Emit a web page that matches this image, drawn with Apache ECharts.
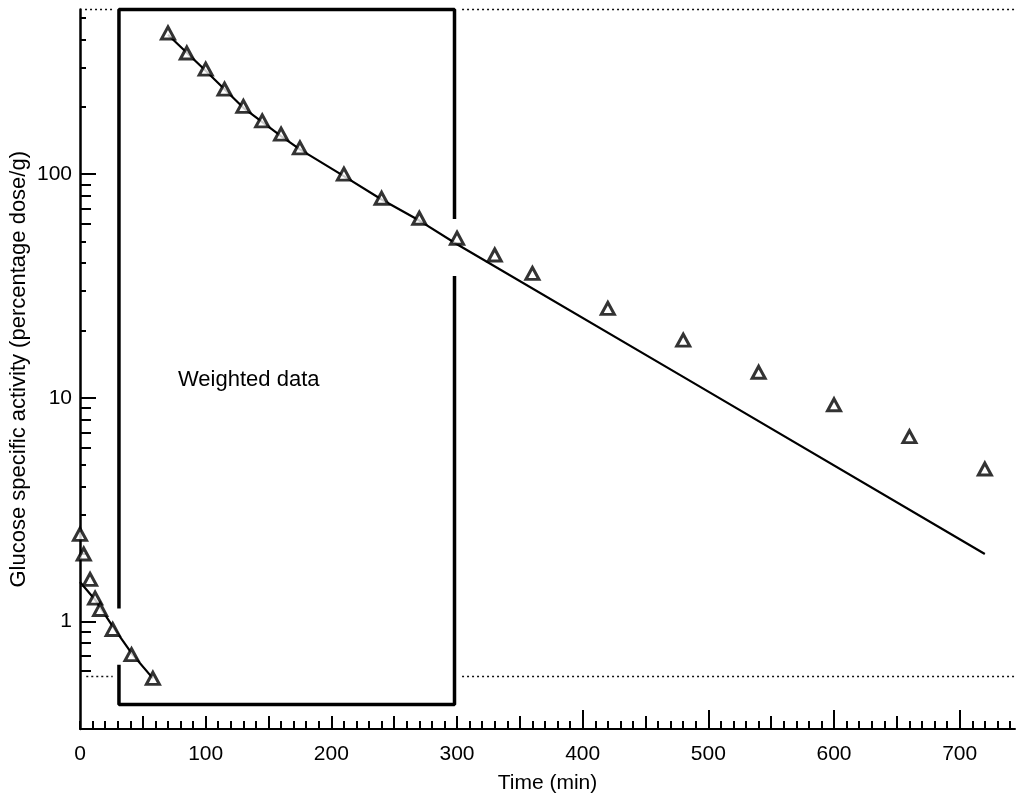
<!DOCTYPE html>
<html>
<head>
<meta charset="utf-8">
<script src="https://cdn.jsdelivr.net/npm/echarts@6/dist/echarts.min.js"></script>
<style>
  html, body { margin: 0; background: #fff; }
  #main { width: 1018px; height: 802px; }
</style>
</head>
<body>
<div id="main"></div>
<script>
// measured points, time in min / glucose specific activity (percentage dose/g)
const earlyTimes = [0, 3, 8, 12, 16, 26, 41, 58];
const earlyValues = [2.45, 2.0, 1.54, 1.27, 1.13, 0.92, 0.71, 0.556];
const lateTimes = [70, 85, 100, 115, 130, 145, 160, 175, 210, 240, 270, 300,
  330, 360, 420, 480, 540, 600, 660, 720];
const lateValues = [428, 348, 295, 240, 201, 173, 151, 131, 100, 78, 63.5, 51.7,
  43.5, 36, 25.1, 18.1, 13.0, 9.3, 6.7, 4.8];

// fitted curves
const earlyFitTimes = [0, 12, 26, 41, 58];
const earlyFitValues = [1.5, 1.25, 0.95, 0.72, 0.556];
const lateFitTimes = [70, 100, 130, 160, 175, 210, 240, 270, 300, 480, 720];
const lateFitValues = [420, 290, 198, 148, 129, 98, 77, 62, 48.6, 12.4, 2.0];

// "weighted data" frame (two pieces, gaps where the data pass through)
const boxUpperTimes = [31, 31, 298, 298];
const boxUpperValues = [1.14, 545, 545, 63];
const boxLowerTimes = [298, 298, 31, 31];
const boxLowerValues = [35, 0.425, 0.425, 0.64];

// dotted reference levels
const dotTopLeftTimes = [4, 26];
const dotTopRightTimes = [304, 744];
const dotTopValue = 545;
const dotBottomLeftTimes = [5, 26];
const dotBottomRightTimes = [304, 744];
const dotBottomValue = 0.567;

// axis ticks
const xLabels = [0, 100, 200, 300, 400, 500, 600, 700];
const xLongTicks = [400, 500, 600, 700];
const xMidTicks = [50, 100, 150, 200, 250, 300, 350, 450, 550, 650];
const xShortTicks = [];
for (let t = 0; t <= 740; t += 10) xShortTicks.push(t);
const yLabels = [1, 10, 100];
const yMajorTicks = [1, 10, 100];
const yLongMinor = [0.6, 0.7, 0.8, 0.9, 6, 7, 8, 9, 60, 70, 80, 90];
const yShortMinor = [2, 3, 4, 5, 20, 30, 40, 50, 200, 300, 400, 500];

const FONT = '"Liberation Sans", Arial, sans-serif';
const INK = '#000';
const X_MIN = 0, X_MAX = 744, Y_MIN = 0.33, Y_MAX = 545;

const pairs = (xs, ys) => xs.map((x, i) => [x, ys[i]]);
const flat = (xs, v) => xs.map((x) => [x, v]);

function xAxisFor(ticks, len, main) {
  return {
    type: 'value', min: X_MIN, max: X_MAX, position: 'bottom', offset: 0,
    name: main ? 'Time (min)' : '',
    nameLocation: 'middle', nameGap: 44, nameMoveOverlap: false,
    nameTextStyle: { color: INK, fontSize: 21, fontFamily: FONT },
    axisLine: { show: main, lineStyle: { color: INK, width: 2 } },
    axisTick: { show: true, inside: true, length: len, customValues: ticks,
      lineStyle: { color: INK, width: 2 } },
    axisLabel: { show: main, customValues: xLabels, margin: 15,
      color: INK, fontSize: 21, fontFamily: FONT },
    splitLine: { show: false }
  };
}

function yAxisFor(ticks, len, main) {
  return {
    type: 'log', logBase: 10, min: Y_MIN, max: Y_MAX, position: 'left', offset: 0,
    name: main ? 'Glucose specific activity (percentage dose/g)' : '',
    nameLocation: 'middle', nameGap: 50, nameMoveOverlap: false,
    nameTextStyle: { color: INK, fontSize: 22, fontFamily: FONT },
    axisLine: { show: main, lineStyle: { color: INK, width: 2.5 } },
    axisTick: { show: true, inside: true, length: len, customValues: ticks,
      lineStyle: { color: INK, width: 2 } },
    axisLabel: { show: main, customValues: yLabels, margin: 8,
      color: INK, fontSize: 21, fontFamily: FONT },
    splitLine: { show: false }
  };
}

const chart = echarts.init(document.getElementById('main'));

const thickLine = (data, width) => ({
  type: 'line', data, showSymbol: false, symbol: 'none', clip: false,
  lineStyle: { color: INK, width }, z: 3, silent: true
});
const dotted = (data) => ({
  type: 'line', data, showSymbol: false, symbol: 'none', clip: false,
  lineStyle: { color: '#111', width: 1.6, type: [2, 3] }, z: 2, silent: true
});

chart.setOption({
  animation: false,
  backgroundColor: '#fff',
  grid: { left: 80, right: 3, top: 9.5, bottom: 73, containLabel: false, outerBoundsMode: 'none' },
  xAxis: [
    xAxisFor(xShortTicks, 8, true),
    xAxisFor(xMidTicks, 13, false),
    xAxisFor(xLongTicks, 19, false)
  ],
  yAxis: [
    yAxisFor(yMajorTicks, 16, true),
    yAxisFor(yLongMinor, 11, false),
    yAxisFor(yShortMinor, 6, false)
  ],
  graphic: [{
    type: 'text', left: 178, top: 369,
    style: { text: 'Weighted data', font: '22px ' + FONT, fill: INK }
  }],
  series: [
    thickLine(pairs(boxUpperTimes, boxUpperValues), 3.5),
    thickLine(pairs(boxLowerTimes, boxLowerValues), 3.5),
    dotted(flat(dotTopLeftTimes, dotTopValue)),
    dotted(flat(dotTopRightTimes, dotTopValue)),
    dotted(flat(dotBottomLeftTimes, dotBottomValue)),
    dotted(flat(dotBottomRightTimes, dotBottomValue)),
    thickLine(pairs(earlyFitTimes, earlyFitValues), 2.2),
    thickLine(pairs(lateFitTimes, lateFitValues), 2.2),
    {
      type: 'scatter',
      data: pairs(earlyTimes, earlyValues).concat(pairs(lateTimes, lateValues)),
      symbol: 'triangle', symbolSize: [13, 12], clip: false, z: 5,
      itemStyle: { color: '#fff', borderColor: INK, borderWidth: 3 }
    }
  ]
});
</script>
</body>
</html>
